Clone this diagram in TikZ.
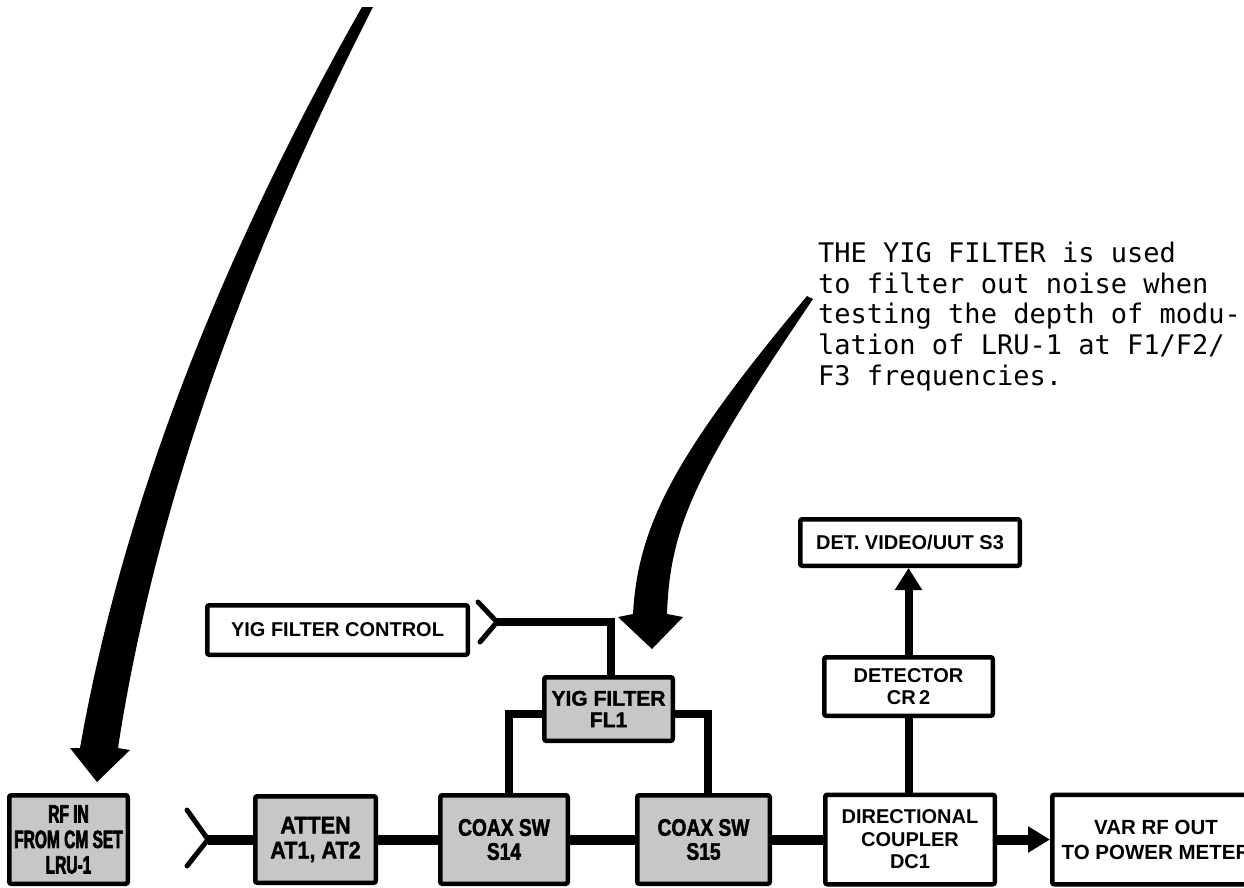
\documentclass[tikz,border=0pt]{standalone}
\usepackage{fontspec}
\usetikzlibrary{arrows.meta}
\newfontfamily\boxf{Liberation Sans}
\newfontfamily\boxrf{Liberation Sans}[FakeStretch=0.62, BoldFeatures={FakeBold=2.5}]
\newfontfamily\boxat{Liberation Sans}[FakeStretch=0.9, BoldFeatures={FakeBold=1.5}]
\newfontfamily\boxco{Liberation Sans}[FakeStretch=0.8, BoldFeatures={FakeBold=1.8}]
\newfontfamily\boxfl{Liberation Sans}[BoldFeatures={FakeBold=1.5}]
\newfontfamily\notef{DejaVu Sans Mono}
\begin{document}
\begin{tikzpicture}[x=1pt,y=-1pt,
  blk/.style={draw, line width=4.5pt, rounded corners=2pt, inner sep=0pt, align=center,
    font=\boxf\bfseries\fontsize{20}{22.5}\selectfont},
  shd/.style={blk, fill=black!22},
  wire/.style={line width=10pt},
  branch/.style={line width=8pt},
  jack/.style={line width=5pt, line cap=round, line join=round},
  bigarrow/.style={fill=black}
]
\useasboundingbox (0,0) rectangle (1244,887);
\clip (0,0) rectangle (1244,887);

% boxes
\node[shd, minimum width=118.5pt, minimum height=88.5pt, font=\boxrf\bfseries\fontsize{25}{25.5}\selectfont] (rf) at (68.5,839.5) {RF IN\\FROM CM SET\\LRU-1};
\node[shd, minimum width=120.5pt, minimum height=86.5pt, font=\boxat\bfseries\fontsize{24}{25}\selectfont] (att) at (315.5,839.5) {ATTEN\\AT1, AT2};
\node[shd, minimum width=127.5pt, minimum height=88.5pt, font=\boxco\bfseries\fontsize{24}{24}\selectfont] (s14) at (504,839.5) {COAX SW\\S14};
\node[shd, minimum width=132.5pt, minimum height=88.5pt, font=\boxco\bfseries\fontsize{24}{24}\selectfont] (s15) at (703.5,839.5) {COAX SW\\S15};
\node[shd, minimum width=128.5pt, minimum height=63.5pt, font=\boxfl\bfseries\fontsize{21}{21.5}\selectfont] (fl1) at (608.5,709) {YIG FILTER\\FL1};
\node[blk, minimum width=169.5pt, minimum height=89.5pt] (dc) at (910,839.5) {DIRECTIONAL\\COUPLER\\DC1};
\node[blk, minimum width=207.5pt, minimum height=89.5pt, font=\boxf\bfseries\fontsize{20.5}{25}\selectfont] (var) at (1156,839.5) {VAR RF OUT\\TO POWER METER};
\node[blk, minimum width=168.5pt, minimum height=58.5pt] (det) at (908.5,686.5) {DETECTOR\\CR\,2};
\node[blk, minimum width=219.5pt, minimum height=46.5pt] (vid) at (910,542.5) {DET. VIDEO/UUT S3};
\node[blk, minimum width=260.5pt, minimum height=49.5pt] (ctl) at (337.5,630) {YIG FILTER CONTROL};

% annotation
\node[anchor=north west, inner sep=0pt, align=left, font=\notef\fontsize{27}{30.8}\selectfont] (note) at (818,241.5)
  {THE YIG FILTER is used\\to filter out noise when\\testing the depth of modu-\\lation of LRU-1 at F1/F2/\\F3 frequencies.};

% jacks
\coordinate (j1) at (208,839.5);
\coordinate (j2) at (497,622);
\draw[jack] (187,810) -- (j1) -- (187,866);
\draw[jack] (478,602) -- (j2) -- (480,642);

% main signal path
\draw[wire] (j1) -- (att.west);
\draw[wire] (att.east) -- (s14.west);
\draw[wire] (s14.east) -- (s15.west);
\draw[wire] (s15.east) -- (dc.west);
\draw[wire, -{Triangle[length=22pt,width=25pt]}] (dc.east) -- (var.west);

% filter branch
\draw[branch] ([yshift=-5pt]fl1.west) -| ([xshift=5pt]s14.north);
\draw[branch] ([yshift=-5pt]fl1.east) -| ([xshift=4pt]s15.north);
\draw[branch] (j2) -| ([xshift=2.5pt]fl1.north);

% detector
\draw[branch] (dc.north -| det.south) -- (det.south);
\draw[branch, -{Triangle[length=22pt,width=26pt]}] (det.north) -- (det.north |- vid.south);

% big curved pointer arrows
\fill[bigarrow] (362,7) .. controls (207,280) and (119,527) .. (80,748)
  -- (70,748) -- (97,782) -- (130,750) -- (118,748)
  .. controls (151,533) and (229,290) .. (373,7) -- cycle;
\fill[bigarrow] (807,296) .. controls (675,454) and (638,525) .. (633,614)
  -- (618,617) -- (652,649) -- (683,617) -- (667,614)
  .. controls (670,525) and (697,470) .. (813,299) -- cycle;
\end{tikzpicture}
\end{document}
